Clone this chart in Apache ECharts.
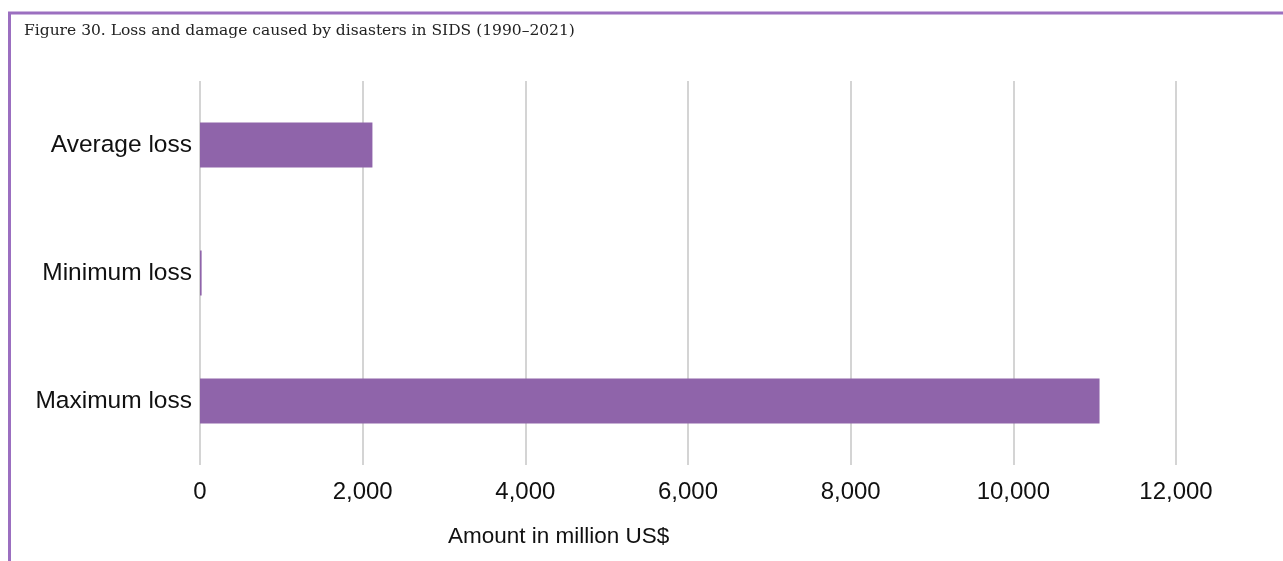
<!DOCTYPE html>
<html>
<head>
<meta charset="utf-8">
<script src="https://cdn.jsdelivr.net/npm/echarts@6/dist/echarts.min.js"></script>
<style>
  html, body { margin: 0; padding: 0; background: #ffffff; }
  #chart { width: 1283px; height: 561px; }
</style>
</head>
<body>
<div id="chart"></div>
<script>
// Loss categories, listed top to bottom
const categories = ['Average loss', 'Minimum loss', 'Maximum loss'];
// Amount in million US$
const lossValues = [2120, 20, 11060];
const axisMax = 12000;
const axisStep = 2000;

const chart = echarts.init(document.getElementById('chart'));

const frameColor = '#9b6fc0';
const barColor = '#8f64aa';
const sans = 'Liberation Sans, Arial, Helvetica, sans-serif';

chart.setOption({
  animation: false,
  backgroundColor: '#ffffff',
  grid: { left: 200, right: 107, top: 81, bottom: 96, containLabel: false },
  xAxis: {
    type: 'value',
    min: 0,
    max: axisMax,
    interval: axisStep,
    axisLine: { show: false },
    axisTick: { show: false },
    splitLine: { show: true, lineStyle: { color: '#d4d4d4', width: 2 } },
    axisLabel: {
      margin: 15,
      color: '#111111',
      fontFamily: sans,
      fontSize: 24,
      formatter: v => v.toLocaleString('en-US')
    }
  },
  yAxis: {
    type: 'category',
    data: categories,
    inverse: true,
    axisLine: { show: false },
    axisTick: { show: false },
    axisLabel: {
      margin: 8,
      color: '#111111',
      fontFamily: sans,
      fontSize: 24.5
    }
  },
  series: [{
    type: 'bar',
    data: lossValues,
    barWidth: '35%',
    itemStyle: { color: barColor }
  }],
  graphic: [
    // frame: top rule and left rule
    { type: 'line', shape: { x1: 8, y1: 13, x2: 1283, y2: 13 }, style: { stroke: frameColor, lineWidth: 3 } },
    { type: 'line', shape: { x1: 9.5, y1: 12, x2: 9.5, y2: 561 }, style: { stroke: frameColor, lineWidth: 3 } },
    {
      type: 'text', left: 24, top: 23,
      style: {
        text: 'Figure 30. Loss and damage caused by disasters in SIDS (1990–2021)',
        fontFamily: 'DejaVu Serif, Liberation Serif, serif',
        fontSize: 15.5,
        fill: '#222222'
      }
    },
    {
      type: 'text', left: 448, top: 525,
      style: {
        text: 'Amount in million US$',
        fontFamily: sans,
        fontSize: 22.5,
        fill: '#111111'
      }
    }
  ]
});
</script>
</body>
</html>
